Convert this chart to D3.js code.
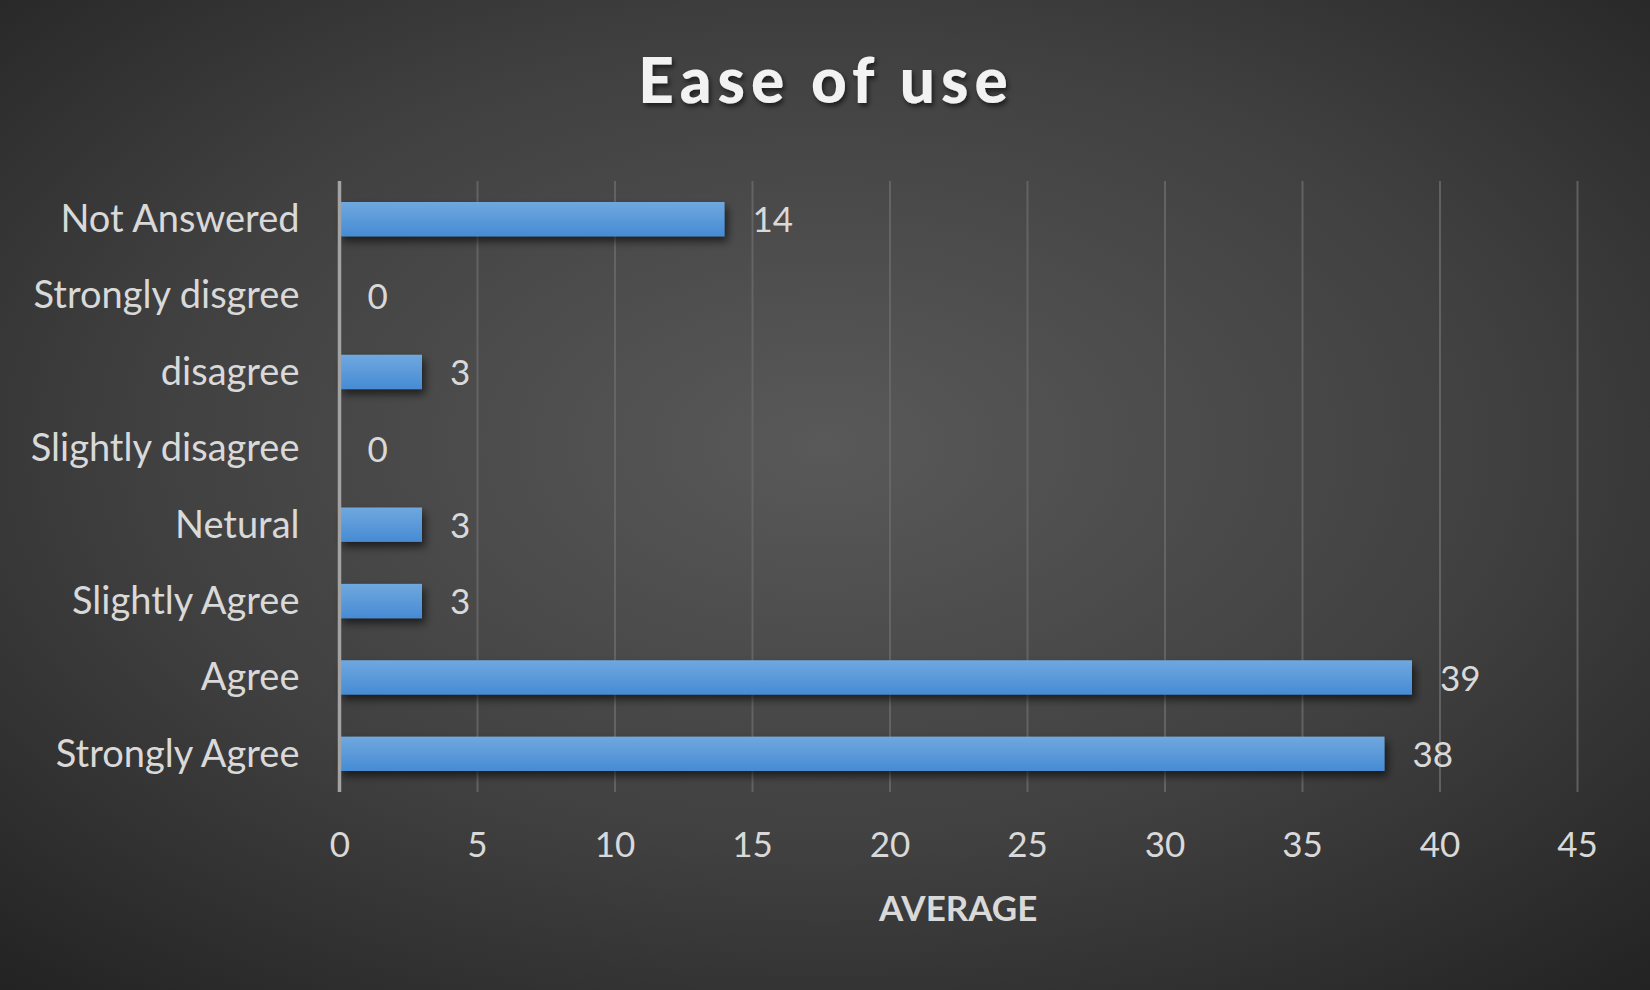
<!DOCTYPE html>
<html>
<head>
<meta charset="utf-8">
<script src="https://cdn.jsdelivr.net/npm/d3@7"></script>
<style>
  html, body { margin: 0; padding: 0; background: #2a2a2a; overflow: hidden; }
  svg { display: block; }
</style>
</head>
<body>
<script>
// chart values
var categories = ['Not Answered', 'Strongly disgree', 'disagree', 'Slightly disagree',
                  'Netural', 'Slightly Agree', 'Agree', 'Strongly Agree']
var values = [14, 0, 3, 0, 3, 3, 39, 38]
var xTicks = [0, 5, 10, 15, 20, 25, 30, 35, 40, 45]
var title = 'Ease of use'
var xTitle = 'AVERAGE'

var outerWidth = 1650
var outerHeight = 990
var margin = {left: 339.5, right: 73, top: 181, bottom: 198}
var innerWidth = outerWidth - margin.left - margin.right
var innerHeight = outerHeight - margin.top - margin.bottom

var svg = d3.select('body').append('svg')
  .attr('width', outerWidth)
  .attr('height', outerHeight)

var defs = svg.append('defs')

var bg = defs.append('radialGradient').attr('id', 'bg')
  .attr('cx', '50%').attr('cy', '45%').attr('r', '75%')
bg.append('stop').attr('offset', '0%').attr('stop-color', '#595959')
bg.append('stop').attr('offset', '55%').attr('stop-color', '#404040')
bg.append('stop').attr('offset', '100%').attr('stop-color', '#222222')

var barGrad = defs.append('linearGradient').attr('id', 'barGrad')
  .attr('x1', 0).attr('y1', 0).attr('x2', 0).attr('y2', 1)
barGrad.append('stop').attr('offset', '0%').attr('stop-color', '#70a8df')
barGrad.append('stop').attr('offset', '100%').attr('stop-color', '#468bd4')

var shadow = defs.append('filter').attr('id', 'shadow')
  .attr('x', '-10%').attr('y', '-30%').attr('width', '130%').attr('height', '190%')
shadow.append('feDropShadow').attr('dx', 3).attr('dy', 5)
  .attr('stdDeviation', 4).attr('flood-color', '#000').attr('flood-opacity', 0.6)

var tshadow = defs.append('filter').attr('id', 'tshadow')
  .attr('x', '-10%').attr('y', '-30%').attr('width', '120%').attr('height', '160%')
tshadow.append('feDropShadow').attr('dx', 2).attr('dy', 3)
  .attr('stdDeviation', 2.5).attr('flood-color', '#000').attr('flood-opacity', 0.6)

svg.append('rect')
  .attr('width', outerWidth).attr('height', outerHeight)
  .attr('fill', 'url(#bg)')

var x = d3.scaleLinear().domain([0, 45]).range([0, innerWidth])
var y = d3.scaleBand().domain(categories).range([0, innerHeight]).paddingInner(0.55).paddingOuter(0.275)

var g = svg.append('g')
  .attr('transform', 'translate(' + margin.left + ',' + margin.top + ')')

// gridlines
var grid = g.append('g')
  .attr('transform', 'translate(0,' + innerHeight + ')')
  .call(d3.axisBottom(x).tickValues(xTicks.slice(1)).tickSize(-innerHeight).tickFormat(''))
grid.select('.domain').remove()
grid.selectAll('line').attr('stroke', '#6a6a6a').attr('stroke-width', 2).attr('stroke-opacity', 0.8)

// bars
g.selectAll('.bar')
  .data(values)
  .enter().append('rect')
  .attr('class', 'bar')
  .attr('x', x(0))
  .attr('y', function (d, i) { return y(categories[i]) })
  .attr('width', function (d) { return x(d) - x(0) })
  .attr('height', y.bandwidth())
  .attr('fill', 'url(#barGrad)')
  .attr('filter', function (d) { return d > 0 ? 'url(#shadow)' : null })

// value labels
g.append('g')
  .attr('font-family', 'Lato, sans-serif')
  .attr('font-size', 35)
  .attr('fill', '#d9d9d9')
  .selectAll('text')
  .data(values)
  .enter().append('text')
  .attr('x', function (d) { return x(d) + 28 })
  .attr('y', function (d, i) { return y(categories[i]) + y.bandwidth() / 2 })
  .attr('dy', '0.38em')
  .text(function (d) { return d })

// y axis
var yAxis = g.append('g')
  .call(d3.axisLeft(y).tickSize(0).tickPadding(40))
  .attr('font-family', 'Lato, sans-serif')
  .attr('font-size', 38)
yAxis.select('.domain').remove()
yAxis.selectAll('text')
  .attr('fill', '#d9d9d9')
  .attr('dy', '0.34em')

g.append('line')
  .attr('x1', x(0)).attr('x2', x(0))
  .attr('y1', 0).attr('y2', innerHeight)
  .attr('stroke', '#a3a3a3').attr('stroke-width', 3.5)

// x axis
var xAxis = g.append('g')
  .attr('transform', 'translate(0,' + innerHeight + ')')
  .call(d3.axisBottom(x).tickValues(xTicks).tickSize(0).tickPadding(40))
  .attr('font-family', 'Lato, sans-serif')
  .attr('font-size', 35)
xAxis.select('.domain').remove()
xAxis.selectAll('text')
  .attr('fill', '#d9d9d9')

svg.append('text')
  .attr('x', margin.left + innerWidth / 2)
  .attr('y', 921)
  .attr('text-anchor', 'middle')
  .attr('fill', '#d9d9d9')
  .attr('font-family', 'Lato, sans-serif')
  .attr('font-weight', 'bold')
  .attr('font-size', 35)
  .text(xTitle)

svg.append('text')
  .attr('x', 826)
  .attr('y', 103)
  .attr('text-anchor', 'middle')
  .attr('fill', '#f2f2f2')
  .attr('filter', 'url(#tshadow)')
  .attr('font-family', 'Lato, sans-serif')
  .attr('font-weight', 900)
  .attr('font-size', 62)
  .attr('letter-spacing', 6)
  .text(title)
</script>
</body>
</html>
